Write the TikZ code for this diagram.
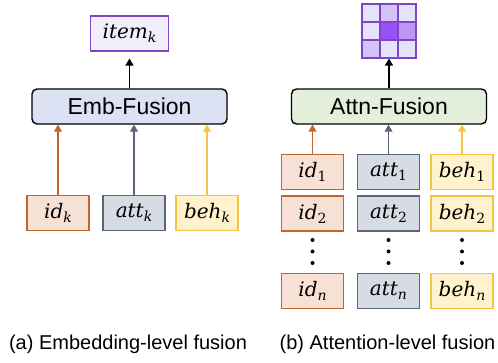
\documentclass[tikz,border=0pt]{standalone}
\usepackage{fontspec}
\setmainfont{Liberation Sans}
\newfontfamily\varfont{DejaVu Serif}
\usetikzlibrary{arrows.meta}

\definecolor{idline}{HTML}{C0662B}
\definecolor{idfill}{HTML}{F7E1D5}
\definecolor{attline}{HTML}{5B6679}
\definecolor{attfill}{HTML}{D7DCE4}
\definecolor{behline}{HTML}{F4C542}
\definecolor{behfill}{HTML}{FFF2CC}
\definecolor{embfill}{HTML}{DCE1F3}
\definecolor{attnfill}{HTML}{E3EFDA}
\definecolor{itemline}{HTML}{8244C6}
\definecolor{itemfill}{HTML}{F2EFFC}
\definecolor{mapA}{HTML}{E4E3FB}
\definecolor{mapB}{HTML}{D4C3F6}
\definecolor{mapC}{HTML}{C093F6}
\definecolor{mapD}{HTML}{9553F7}

% italic name with a lowered index
\newcommand{\vname}[2]{{\varfont\fontsize{20}{24}\selectfont\itshape #1}\raisebox{-4pt}{\varfont\fontsize{14}{14}\selectfont #2}}

\begin{document}
\begin{tikzpicture}
  [x=1pt,y=1pt,>={Triangle[width=8pt,length=7pt]},line width=1.1pt,
   every node/.style={inner sep=0pt,font=\fontsize{23}{27}\selectfont}]
  \tikzstyle{feat} = [draw,minimum width=62pt,minimum height=35pt]
  \tikzstyle{fusion} = [draw=black,rounded corners=5pt,line width=1.4pt,minimum width=195pt,minimum height=35pt]
  \tikzstyle{cell} = [draw=itemline,minimum size=18pt]
  \tikzstyle{caption} = [font=\fontsize{20}{24}\selectfont]
  \useasboundingbox (0,0) rectangle (498,363);

  % (a) fusion of the embeddings
  \node[draw=itemline,fill=itemfill,minimum width=78pt,minimum height=35pt] (item) at (129.5,329.5) {\vname{item}{\itshape k}};
  \node[fusion,fill=embfill] (emb) at (129.5,256.5) {Emb-Fusion};
  \node[feat,draw=idline,fill=idfill] (idk) at (58,150) {\vname{id}{\itshape k}};
  \node[feat,draw=attline,fill=attfill] (attk) at (134,150) {\vname{att}{\itshape k}};
  \node[feat,draw=behline,fill=behfill] (behk) at (207,150) {\vname{beh}{\itshape k}};
  \draw[->,shorten >=7pt] (emb) -- (item);
  \foreach \source/\col in {idk/idline,attk/attline,behk/behline}
    \draw[->,\col] (\source) -- (\source |- emb.south);

  % (b) fusion inside the attention
  \foreach \r/\c/\shade in {1/1/mapA,1/2/mapB,1/3/mapA,2/1/mapA,2/2/mapD,2/3/mapC,3/1/mapB,3/2/mapA,3/3/mapA}
    \node[cell,fill=\shade] (m\r\c) at (353+18*\c,368-18*\r) {};
  \node[fusion,fill=attnfill] (attnfus) at (389,256.5) {Attn-Fusion};
  \draw[->] (attnfus) -- (m32);
  \foreach \k/\y/\kshape in {1/191/\upshape,2/149.5/\upshape,n/72/\itshape} {
    \node[feat,draw=idline,fill=idfill] (id\k) at (312.5,\y) {\vname{id}{\kshape\k}};
    \node[feat,draw=attline,fill=attfill] (att\k) at (388.5,\y) {\vname{att}{\kshape\k}};
    \node[feat,draw=behline,fill=behfill] (beh\k) at (462,\y) {\vname{beh}{\kshape\k}};
  }
  \foreach \source/\col in {id1/idline,att1/attline,beh1/behline}
    \draw[->,\col] (\source) -- (\source |- attnfus.south);
  \foreach \x in {312.5,388.5,462}
    \foreach \y in {100,111.5,123}
      \fill (\x,\y) circle (2pt);

  \node[caption] (capa) at (128,19) {(a) Embedding-level fusion};
  \node[caption] (capb) at (387.5,19) {(b) Attention-level fusion};
\end{tikzpicture}
\end{document}
